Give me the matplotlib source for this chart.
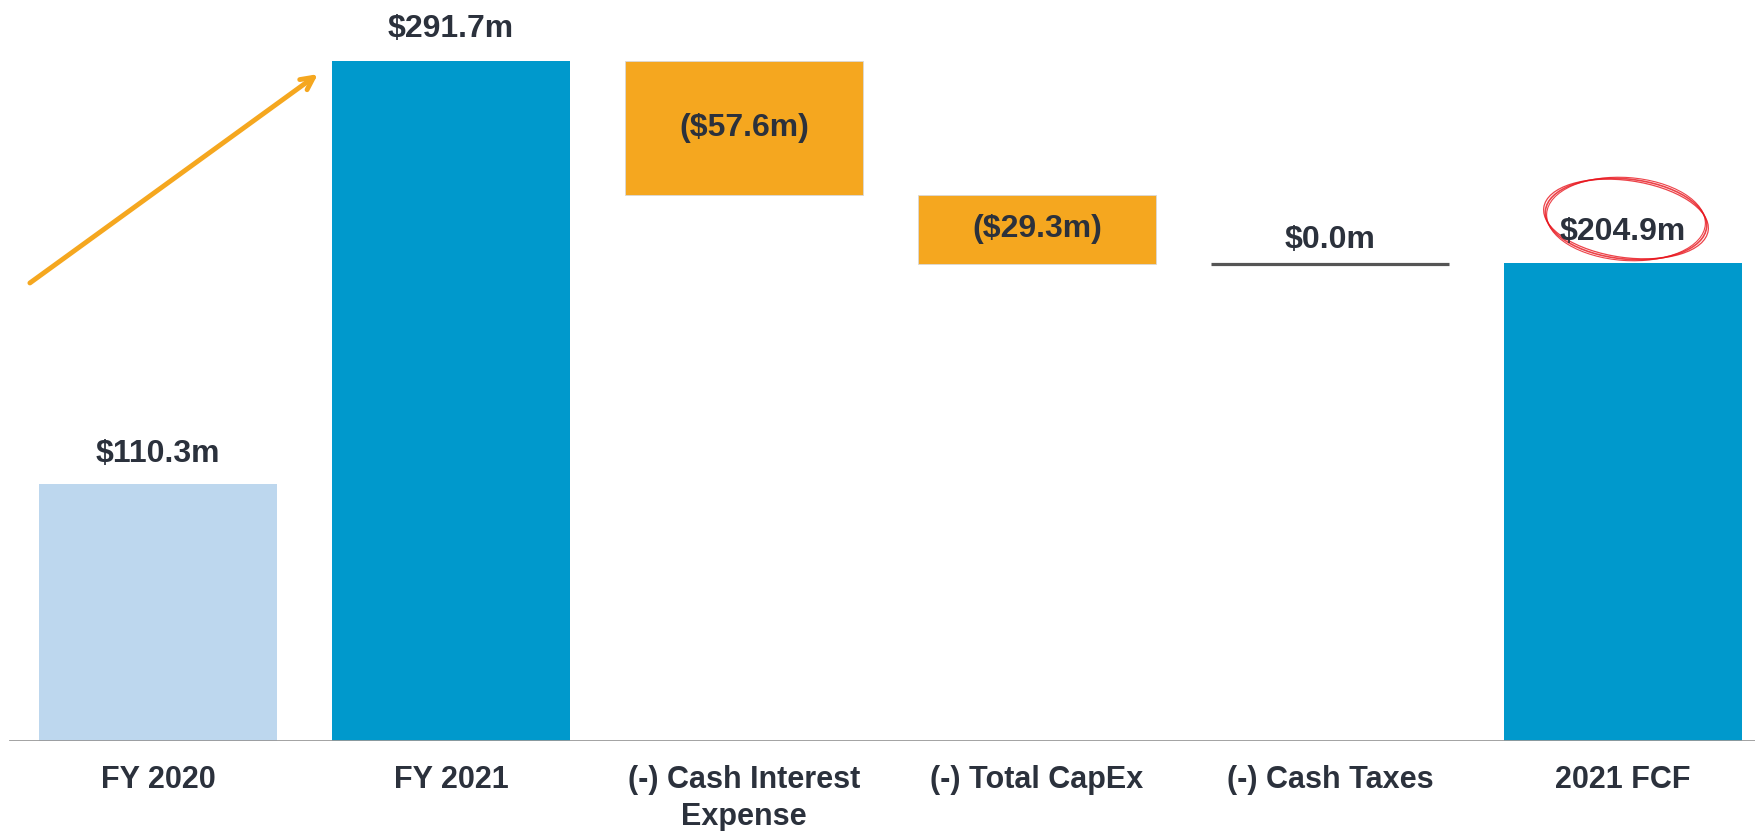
import matplotlib
matplotlib.use('Agg')
from matplotlib import pyplot as plt
from matplotlib.patches import Ellipse

categories = ['FY 2020', 'FY 2021', '(-) Cash Interest\nExpense', '(-) Total CapEx',
              '(-) Cash Taxes', '2021 FCF']
values = [110.3, 291.7, -57.6, -29.3, 0.0, 204.9]
labels = ['$110.3m', '$291.7m', '($57.6m)', '($29.3m)', '$0.0m', '$204.9m']
kinds = ['prior', 'total', 'delta', 'delta', 'delta', 'total']

TXT = '#2B313C'
BLUE = '#0099CC'
LIGHT = '#BDD7EE'
ORANGE = '#F5A71F'

plt.rcParams['font.family'] = ['Liberation Sans', 'DejaVu Sans']

fig = plt.figure(figsize=(17.56, 8.31), dpi=100)
ax = fig.add_axes([0, 90 / 831, 1, 741 / 831])
ax.set_xlim(-0.539, 5.454)
ax.set_ylim(0, 317.9)

w = 0.81
running = 0
for i, (v, kind) in enumerate(zip(values, kinds)):
    if kind == 'prior':
        ax.bar(i, v, w, color=LIGHT)
        ax.annotate(labels[i], (i, v), xytext=(0, 11), textcoords='offset points',
                    ha='center', va='bottom', fontsize=23, fontweight='bold', color=TXT)
    elif kind == 'total':
        ax.bar(i, v, w, color=BLUE)
        running = v
        ax.annotate(labels[i], (i, v), xytext=(0, 12), textcoords='offset points',
                    ha='center', va='bottom', fontsize=23, fontweight='bold', color=TXT)
    elif v == 0:
        ax.hlines(running, i - w / 2, i + w / 2, color='#555555', lw=2.3)
        ax.annotate(labels[i], (i, running), xytext=(0, 6), textcoords='offset points',
                    ha='center', va='bottom', fontsize=23, fontweight='bold', color=TXT)
    else:
        ax.bar(i, v, w, bottom=running, color=ORANGE, edgecolor='#D9D9D9', linewidth=0.6)
        ax.text(i, running + v / 2, labels[i], ha='center', va='center',
                fontsize=23, fontweight='bold', color=TXT)
        running += v

# baseline
ax.axhline(0, xmin=10 / 1756, xmax=1, color='#999999', lw=2)

for s in ax.spines.values():
    s.set_visible(False)
ax.set_yticks([])
ax.set_xticks(range(len(categories)))
ax.set_xticklabels(categories, fontsize=22, fontweight='bold', color=TXT, linespacing=1.3)
ax.tick_params(axis='x', length=0, pad=17)

# growth arrow
ax.annotate('', xy=(0.546, 286.1), xytext=(-0.437, 196.5),
            arrowprops=dict(arrowstyle='->,head_length=0.9,head_width=0.45',
                            color='#F5A71F', lw=3.5, shrinkA=0, shrinkB=0))

# hand-drawn red circle around final value
for dw, dh, ang, lw in [(0, 0, -6, 1.2), (0.04, -0.03, -8, 0.9), (-0.03, 0.03, -4, 0.8)]:
    ax.add_patch(Ellipse((16.26, 6.12), 1.62 + dw, 0.80 + dh, angle=ang,
                         transform=fig.dpi_scale_trans, fill=False,
                         edgecolor='#E8141C', lw=lw, alpha=0.8, clip_on=False))

fig.savefig('out.png', dpi=100)
